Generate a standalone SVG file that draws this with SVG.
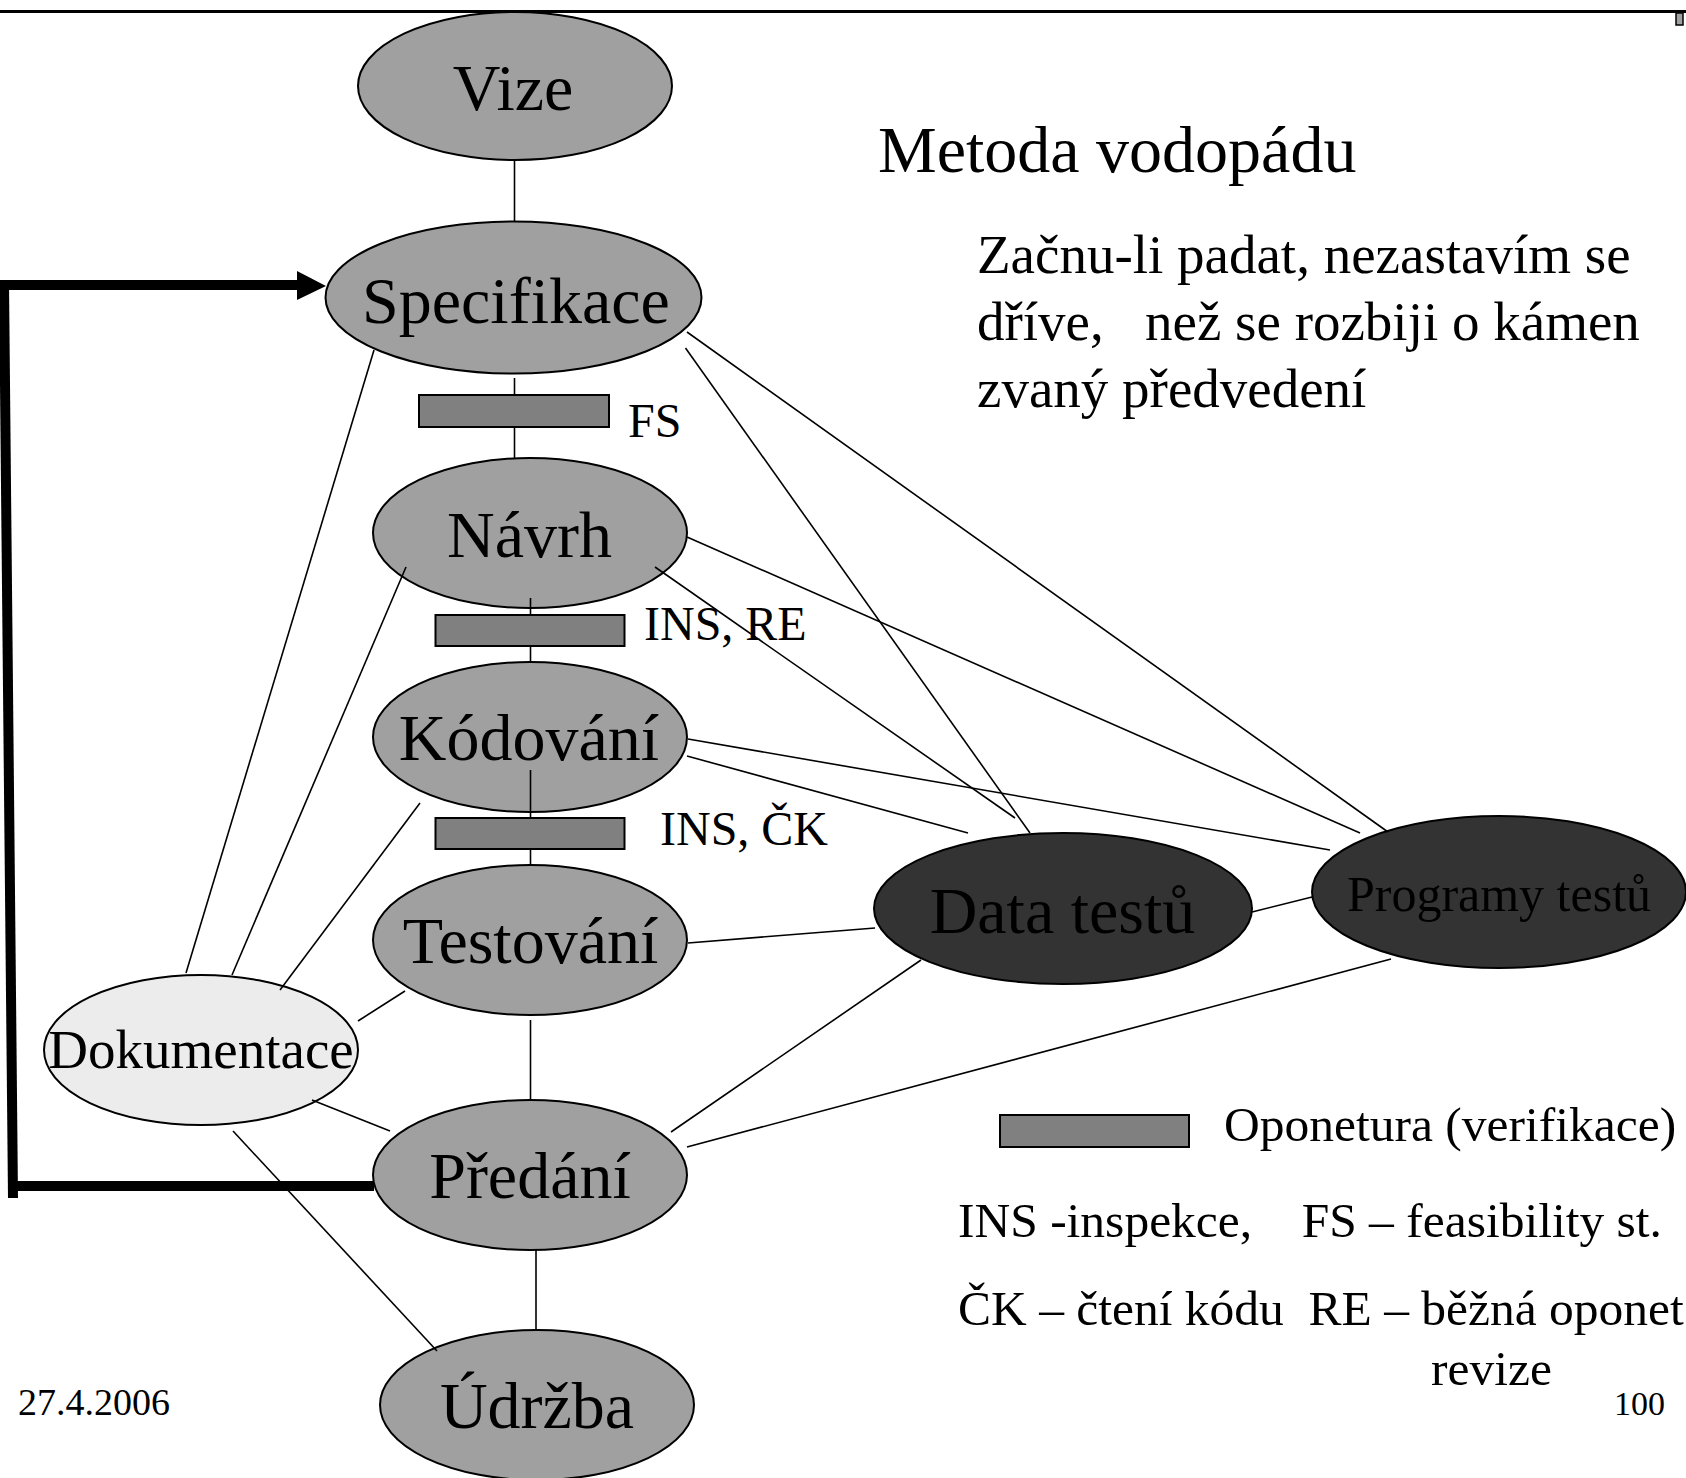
<svg xmlns="http://www.w3.org/2000/svg" width="1686" height="1478" viewBox="0 0 1686 1478">
  <style>
    text { font-family: "Liberation Serif", "Times New Roman", serif; fill: #000; }
    .phase { fill: #a0a0a0; stroke: #000; stroke-width: 2; }
    .doc { fill: #ececec; stroke: #000; stroke-width: 2; }
    .test { fill: #333333; stroke: #000; stroke-width: 2; }
    .review { fill: #808080; stroke: #000; stroke-width: 2; }
    .link { stroke: #000; stroke-width: 1.6; fill: none; }
    .loop { stroke: #000; stroke-width: 10; fill: none; }
    .big { font-size: 66px; text-anchor: middle; }
    .mid { font-size: 48px; }
  </style>
  <defs>
    <marker id="head" viewBox="0 0 10 10" refX="9" refY="5" markerWidth="3" markerHeight="3" orient="auto" markerUnits="strokeWidth">
      <path d="M0,0 L10,5 L0,10 z" fill="#000"/>
    </marker>
  </defs>

  <rect width="1686" height="1478" fill="#fff"/>

  <!-- slide header rule -->
  <line x1="0" y1="11.5" x2="1686" y2="11.5" stroke="#000" stroke-width="3"/>
  <rect x="1676" y="13" width="7" height="12" fill="#a0a0a0" stroke="#000" stroke-width="1.5"/>

  <!-- nodes -->
  <g id="vize">
    <ellipse class="phase" cx="515" cy="86" rx="157" ry="74"/>
    <text class="big" x="513" y="110">Vize</text>
  </g>
  <g id="specifikace">
    <ellipse class="phase" cx="513.5" cy="297.5" rx="188" ry="76"/>
    <text class="big" x="516" y="323">Specifikace</text>
  </g>
  <g id="navrh">
    <ellipse class="phase" cx="530" cy="533" rx="157" ry="75"/>
    <text class="big" x="529.5" y="557">Návrh</text>
  </g>
  <g id="kodovani">
    <ellipse class="phase" cx="530" cy="737" rx="157" ry="75"/>
    <text class="big" x="529" y="760">Kódování</text>
  </g>
  <g id="testovani">
    <ellipse class="phase" cx="530" cy="940" rx="157" ry="75"/>
    <text class="big" x="530.5" y="963">Testování</text>
  </g>
  <g id="predani">
    <ellipse class="phase" cx="530" cy="1175" rx="157" ry="75"/>
    <text class="big" x="530" y="1198">Předání</text>
  </g>
  <g id="udrzba">
    <ellipse class="phase" cx="537" cy="1405" rx="157" ry="75"/>
    <text class="big" x="537" y="1428">Údržba</text>
  </g>
  <g id="dokumentace">
    <ellipse class="doc" cx="201" cy="1050" rx="157" ry="75"/>
    <text x="201" y="1068" font-size="55" text-anchor="middle">Dokumentace</text>
  </g>
  <g id="data-testu">
    <ellipse class="test" cx="1063" cy="908.5" rx="189" ry="75.5"/>
    <text class="big" x="1062.5" y="933">Data testů</text>
  </g>
  <g id="programy-testu">
    <ellipse class="test" cx="1499" cy="892" rx="187" ry="76"/>
    <text x="1499" y="911" font-size="50" text-anchor="middle">Programy testů</text>
  </g>

  <!-- review gates between phases -->
  <g id="gate-fs">
    <rect class="review" x="419" y="395" width="190" height="32"/>
    <text class="mid" x="628" y="437">FS</text>
  </g>
  <g id="gate-ins-re">
    <rect class="review" x="435.5" y="615" width="189" height="31"/>
    <text class="mid" x="644" y="640">INS, RE</text>
  </g>
  <g id="gate-ins-ck">
    <rect class="review" x="435.5" y="818" width="189" height="31"/>
    <text class="mid" x="660" y="845">INS, ČK</text>
  </g>

  <!-- connectors -->
  <g id="connectors">
    <line class="link" x1="514.5" y1="160" x2="514.5" y2="222"/>
    <line class="link" x1="514.5" y1="378" x2="514.5" y2="395"/>
    <line class="link" x1="514.5" y1="427" x2="514.5" y2="458"/>
    <line class="link" x1="530.5" y1="598" x2="530.5" y2="615"/>
    <line class="link" x1="530.5" y1="646" x2="530.5" y2="662"/>
    <line class="link" x1="530.5" y1="770" x2="530.5" y2="818"/>
    <line class="link" x1="530.5" y1="849" x2="530.5" y2="865"/>
    <line class="link" x1="530.5" y1="1020" x2="530.5" y2="1100"/>
    <line class="link" x1="536" y1="1250" x2="536" y2="1330"/>

    <line class="link" x1="687" y1="332" x2="1388" y2="832"/>
    <line class="link" x1="685.5" y1="348" x2="1030" y2="833"/>
    <line class="link" x1="687" y1="537" x2="1360" y2="833"/>
    <line class="link" x1="655" y1="567" x2="1015" y2="818"/>
    <line class="link" x1="688" y1="739" x2="1330" y2="850"/>
    <line class="link" x1="687" y1="756" x2="968" y2="833"/>
    <line class="link" x1="688" y1="943" x2="875" y2="928"/>
    <line class="link" x1="1252" y1="912" x2="1312" y2="897"/>
    <line class="link" x1="671" y1="1132" x2="921" y2="960"/>
    <line class="link" x1="687" y1="1147" x2="1391" y2="959"/>

    <line class="link" x1="374" y1="350" x2="186" y2="973"/>
    <line class="link" x1="406" y1="567" x2="232" y2="975"/>
    <line class="link" x1="420" y1="803" x2="280" y2="990"/>
    <line class="link" x1="405" y1="991" x2="358" y2="1021"/>
    <line class="link" x1="312" y1="1100" x2="390" y2="1131"/>
    <line class="link" x1="233" y1="1131" x2="437" y2="1351"/>

    <!-- feedback loop from handover back to specification -->
    <line class="loop" x1="374" y1="1186" x2="8" y2="1186"/>
    <line class="loop" x1="13" y1="1198" x2="4" y2="282"/>
    <line class="loop" x1="0" y1="285" x2="300" y2="285"/>
    <polygon points="297,271 326,286 297,300" fill="#000"/>
  </g>

  <!-- title and notes -->
  <text x="878" y="172" font-size="66">Metoda vodopádu</text>
  <text font-size="55" xml:space="preserve"><tspan x="977" y="273">Začnu-li padat, nezastavím se</tspan><tspan x="977" y="340">dříve,   než se rozbiji o kámen</tspan><tspan x="977" y="407">zvaný předvedení</tspan></text>

  <!-- legend -->
  <g id="legend">
    <rect class="review" x="1000" y="1115" width="189" height="32"/>
    <text x="1224" y="1141" font-size="49.5">Oponetura (verifikace)</text>
    <text x="958" y="1237" font-size="49.5" xml:space="preserve">INS -inspekce,    FS – feasibility st.</text>
    <text x="958" y="1325" font-size="49.5" xml:space="preserve">ČK – čtení kódu  RE – běžná oponet</text>
    <text x="1431" y="1385" font-size="49.5">revize</text>
  </g>

  <!-- footer -->
  <text x="18" y="1415" font-size="38">27.4.2006</text>
  <text x="1614" y="1415" font-size="34">100</text>
</svg>
